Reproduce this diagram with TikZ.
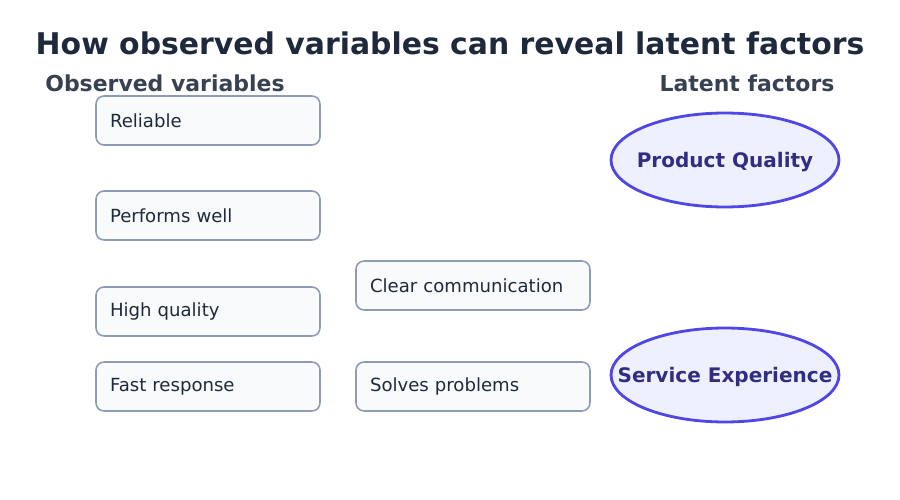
\documentclass[tikz,border=0pt]{standalone}
\usepackage{fontspec}
\setmainfont{DejaVu Sans}
\usetikzlibrary{shapes.geometric}
\definecolor{titleink}{HTML}{1E293B}
\definecolor{headink}{HTML}{374151}
\definecolor{boxfill}{HTML}{F8FAFC}
\definecolor{boxline}{HTML}{8E9BB4}
\definecolor{ovalfill}{HTML}{EEF0FE}
\definecolor{ovalline}{HTML}{4F46E5}
\definecolor{ovalink}{HTML}{312E81}
\tikzset{
	obsbox/.style={draw=boxline, fill=boxfill, line width=0.9pt, rounded corners=0.16cm,
		minimum width=4.48cm, minimum height=0.98cm, text width=3.92cm, align=left,
		inner xsep=0.28cm, font=\fontsize{10.3}{12}\selectfont, text=titleink},
	widebox/.style={obsbox, minimum width=4.68cm, text width=4.12cm},
	latent/.style={ellipse, draw=ovalline, fill=ovalfill, line width=1.6pt,
		minimum width=4.56cm, minimum height=1.88cm, inner sep=0pt},
	latentname/.style={font=\bfseries\fontsize{11.4}{13}\selectfont, text=ovalink, yshift=-0.04cm},
	heading/.style={font=\bfseries\fontsize{12.5}{15}\selectfont, text=headink}
}
\begin{document}
\begin{tikzpicture}[x=0.02cm, y=-0.02cm]
		%%%%% START %%%%%
		\useasboundingbox (0, 0) rectangle (900, 500);
		
		\node[font=\bfseries\fontsize{17}{20}\selectfont, text=titleink] (title) at (450, 43) {How observed variables can reveal latent factors};
		
		\node[heading] (obshead) at (165, 83) {Observed variables};
		\node[heading] (lathead) at (747, 83) {Latent factors};
		
		\node[obsbox] (reliable) at (208, 120.5) {Reliable};
		\node[obsbox] (performs) at (208, 215.5) {Performs well};
		\node[obsbox] (quality) at (208, 311.5) {High quality};
		\node[obsbox] (fast) at (208, 386.5) {Fast response};
		
		\node[widebox] (clear) at (473, 285.5) {Clear communication};
		\node[widebox] (solves) at (473, 386.5) {Solves problems};
		
		\node[latent] (product) at (725, 160) {};
		\node[latentname] (productname) at (product) {Product Quality};
		\node[latent] (service) at (725, 375) {};
		\node[latentname] (servicename) at (service) {Service Experience};
		
		%%%%% END %%%%%
	\end{tikzpicture}
\end{document}
